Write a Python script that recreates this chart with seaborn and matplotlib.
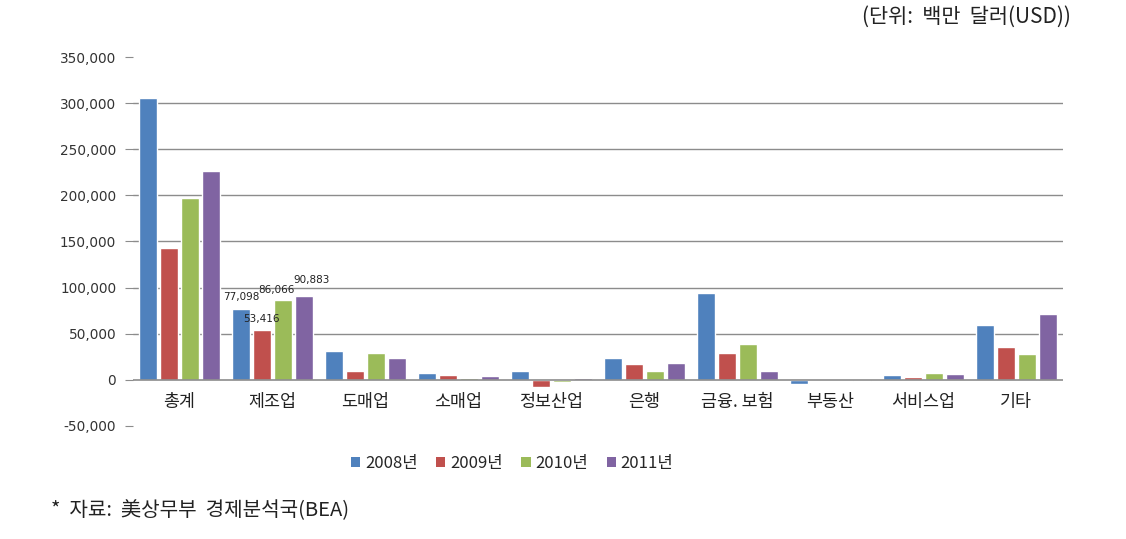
import matplotlib
matplotlib.use("Agg")
import matplotlib.pyplot as plt
import seaborn as sns
import pandas as pd
from matplotlib.patches import Patch
from matplotlib.ticker import FuncFormatter

sns.set_theme(style="white")
plt.rcParams['font.family'] = ['Noto Sans CJK KR', 'DejaVu Sans']
plt.rcParams['axes.unicode_minus'] = False

categories = ["총계", "제조업", "도매업", "소매업", "정보산업", "은행", "금융. 보험", "부동산", "서비스업", "기타"]
years = ["2008년", "2009년", "2010년", "2011년"]
v2008 = [306000, 77098, 31500, 7000, 9000, 24000, 94500, -4800, 4700, 59600]
v2009 = [143000, 53416, 10000, 4700, -7600, 16600, 28500, 0, 2500, 36000]
v2010 = [197500, 86066, 28500, 1400, -2600, 10000, 39000, 0, 7200, 28000]
v2011 = [226500, 90883, 24000, 3500, 1400, 17700, 9000, -1500, 6500, 71500]
colors = ["#4F81BD", "#C0504D", "#9BBB59", "#8064A2"]
yticks = [-50000, 0, 50000, 100000, 150000, 200000, 250000, 300000, 350000]
labelled_category = "제조업"

rows = []
for y, vals in zip(years, [v2008, v2009, v2010, v2011]):
    for c, v in zip(categories, vals):
        rows.append({"category": c, "year": y, "value": v})
df = pd.DataFrame(rows)

fig = plt.figure(figsize=(11.26, 5.39), dpi=100)
ax = fig.add_axes([0.118, 0.210, 0.826, 0.684])

sns.barplot(data=df, x="category", y="value", hue="year", order=categories,
            hue_order=years, palette=colors, width=0.9, gap=0.15,
            saturation=1, ax=ax, legend=False, errorbar=None)

ax.set_ylim(-50000, 350000)
ax.set_yticks(yticks)
ax.yaxis.set_major_formatter(FuncFormatter(lambda v, p: f"{int(v):,}"))
ax.set_xlim(-0.5, len(categories) - 0.5)
for t in yticks:
    if 0 < t < 350000:
        ax.axhline(t, color="#8C8C8C", lw=1.0, zorder=0)
ax.axhline(0, color="#8C8C8C", lw=1.2, zorder=3)

for s in ["top", "right", "left", "bottom"]:
    ax.spines[s].set_visible(False)

ax.tick_params(axis="y", which="both", left=True, length=6, width=0.8,
               color="#8C8C8C", labelsize=9.8, pad=6, labelcolor="#333333")
for lab in ax.get_yticklabels():
    lab.set_family("DejaVu Sans")
ax.tick_params(axis="x", length=0)
ax.set_xticks(range(len(categories)))
ax.set_xticklabels([])
for i, c in enumerate(categories):
    ax.text(i, -14500, c, ha="center", va="top", fontsize=12.5, color="#222222")
ax.set_xlabel("")
ax.set_ylabel("")

# data labels for 제조업 group (offsets in points as placed in the reference)
label_dx = [0, 0, -4.3, 5.8]
label_dy = [8.6, 8.6, 7.2, 11.5]
ci = categories.index(labelled_category)
for k, cont in enumerate(ax.containers):
    bar = cont.patches[ci]
    val = [v2008, v2009, v2010, v2011][k][ci]
    ax.annotate(f"{val:,}", (bar.get_x() + bar.get_width() / 2, bar.get_height()),
                xytext=(label_dx[k], label_dy[k]), textcoords="offset points",
                ha="center", va="center", fontsize=7.5, color="#222222",
                family="DejaVu Sans")

handles = [Patch(facecolor=c, edgecolor="none") for c in colors]
fig.legend(handles, years, loc="center", bbox_to_anchor=(0.455, 0.141), ncol=4,
           frameon=False, fontsize=12, handlelength=0.55, handleheight=0.55,
           handletextpad=0.3, columnspacing=1.1)

fig.text(0.951, 0.968, "(단위:  백만  달러(USD))", ha="right", va="center", fontsize=15, color="#222222")
fig.text(0.045, 0.052, "*  자료:  美상무부  경제분석국(BEA)", ha="left", va="center", fontsize=14.5, color="#222222")

fig.savefig("out.png", dpi=100)
